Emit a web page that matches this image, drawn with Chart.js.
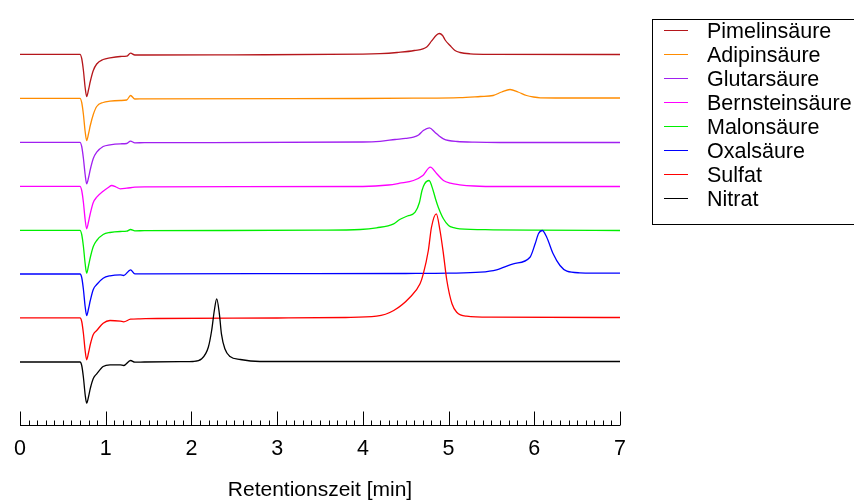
<!DOCTYPE html>
<html>
<head>
<meta charset="utf-8">
<script src="https://cdn.jsdelivr.net/npm/chart.js@4.4.1/dist/chart.umd.min.js"></script>
<style>
  html, body { margin: 0; padding: 0; background: #fff; overflow: hidden; }
  #wrap { width: 854px; height: 501px; }
</style>
</head>
<body>
<div id="wrap"><canvas id="chart" width="854" height="501"></canvas></div>
<script>
// Trace names and colours, top to bottom as in the legend
const seriesNames = ['Pimelinsäure', 'Adipinsäure', 'Glutarsäure', 'Bernsteinsäure',
                     'Malonsäure', 'Oxalsäure', 'Sulfat', 'Nitrat'];
const seriesColors = ['#b5161b', '#ff8c00', '#a020f0', '#ff00ff',
                      '#00ee00', '#0000ff', '#ff0000', '#000000'];
// vertical offset of each trace (stacked chromatograms)
const traceOffsets = [355.5, 311.5, 267.5, 223.5, 179.5, 136.5, 92.5, 48.5];
const xTickLabels = ['0', '1', '2', '3', '4', '5', '6', '7'];
const axisTitle = 'Retentionszeit [min]';

// Retention time [min] and signal
const pimelinT = [0, 0.70, 0.72, 0.74, 0.76, 0.778, 0.80, 0.82, 0.855, 0.895, 0.97, 1.05, 1.17, 1.245, 1.29, 1.34, 1.45,
                  2.5, 4.0, 4.2, 4.4, 4.6, 4.745, 4.80, 4.86, 4.892, 4.93, 4.96, 5.017, 5.075, 5.134, 5.25, 5.5, 7];
const pimelinV = [0.2, 0.2, -4, -16, -33, -42, -35, -27, -16, -9.5, -5, -3.3, -2, -1.7, 1.3, -0.5, -0.5,
                  -0.3, 0.3, 0.8, 2, 4, 7.5, 13.3, 19.5, 21, 19, 14.5, 9, 4, 2, 0.7, 0.2, 0];

const adipinT = [0, 0.70, 0.72, 0.74, 0.76, 0.778, 0.80, 0.82, 0.855, 0.895, 0.97, 1.05, 1.17, 1.245, 1.29, 1.34, 1.45,
                 3.97, 4.6, 5.13, 5.37, 5.52, 5.62, 5.717, 5.81, 5.91, 5.99, 6.07, 6.5, 7];
const adipinV = [0.2, 0.2, -4, -16, -33, -42, -35, -27, -16, -8, -4, -2.7, -2, -1.5, 3, -0.5, -0.3,
                 0, 0.3, 0.8, 2, 3, 6.5, 9, 6.5, 3, 1.5, 0.7, 0.5, 0.5];

const glutarT = [0, 0.70, 0.72, 0.74, 0.76, 0.778, 0.80, 0.82, 0.855, 0.895, 0.97, 1.05, 1.17, 1.245, 1.29, 1.34, 1.45,
                 4.0, 4.2, 4.375, 4.5, 4.59, 4.65, 4.705, 4.776, 4.84, 4.89, 4.94, 5.0, 5.1, 5.3, 5.6, 7];
const glutarV = [0.2, 0.2, -4, -16, -32, -41.3, -35, -27, -16, -9.7, -4, -2.3, -1.3, -1, 1.3, -0.3, -0.2,
                 0.5, 1.2, 3, 4.2, 5.3, 7.5, 12, 14.7, 10.3, 6.5, 3.7, 2, 1, 0.3, 0, 0];

const bernsteinT = [0, 0.70, 0.72, 0.74, 0.76, 0.778, 0.80, 0.82, 0.855, 0.895, 0.97, 1.03, 1.07, 1.12, 1.17, 1.245, 1.34, 1.45,
                    4.0, 4.3, 4.43, 4.59, 4.70, 4.787, 4.86, 4.94, 5.02, 5.13, 5.3, 5.6, 7];
const bernsteinV = [0.2, 0.2, -4, -16, -33, -42.3, -35, -27, -16, -10.7, -4.7, -1, 1, -0.5, -2.3, -1.7, -0.7, -0.3,
                    0, 1.5, 3.3, 6, 11, 19.3, 13, 6, 3.3, 1.7, 0.5, 0, 0];

const malonT = [0, 0.70, 0.72, 0.74, 0.76, 0.778, 0.80, 0.82, 0.855, 0.895, 0.97, 1.05, 1.17, 1.245, 1.29, 1.34, 1.45,
                3.5, 3.97, 4.16, 4.36, 4.43, 4.52, 4.61, 4.66, 4.69, 4.72, 4.772, 4.82, 4.85, 4.88, 4.94, 5.0, 5.06, 5.13, 5.52, 6.0, 7];
const malonV = [0.2, 0.2, -4, -16, -33, -42.7, -35, -27, -16, -10, -4, -2, -1, -0.7, 1, -0.3, -0.2,
                0.3, 1, 2.7, 6.7, 11, 14.5, 18.3, 28, 40, 46.7, 50, 40, 31, 23.3, 11.7, 5, 2.8, 1.7, 0.7, 0.3, 0];

const oxalT = [0, 0.70, 0.72, 0.74, 0.76, 0.778, 0.80, 0.82, 0.855, 0.895, 0.97, 1.05, 1.17, 1.21, 1.29, 1.34, 1.45,
               3.0, 4.5, 5.0, 5.37, 5.56, 5.755, 5.95, 6.01, 6.05, 6.094, 6.145, 6.22, 6.30, 6.38, 6.53, 7];
const oxalV = [-0.5, -0.5, -4, -16, -33, -42, -35, -27, -16, -11, -4.7, -2.3, -1.3, -2, 3.7, -0.3, -0.3,
               -0.2, 0, 0.3, 1.3, 3.7, 9.7, 16.3, 29.7, 40, 43, 36.3, 19.7, 8, 2.3, 0.7, 0.3];

const sulfatT = [0, 0.70, 0.72, 0.74, 0.76, 0.778, 0.80, 0.82, 0.855, 0.895, 0.97, 1.05, 1.17, 1.21, 1.29, 1.40, 1.6,
                 3.0, 3.8, 4.16, 4.36, 4.55, 4.667, 4.705, 4.764, 4.80, 4.857, 4.90, 4.94, 4.98, 5.04, 5.095, 5.21, 5.5, 7];
const sulfatV = [-0.3, -0.3, -4, -16, -33, -42.3, -35, -27, -17, -13, -5.7, -3, -3.7, -4.3, -1.7, -1.3, -1,
                 -0.5, 0, 1.3, 7, 20.3, 33.7, 43.7, 67, 90, 103.7, 87, 63.7, 37, 13.7, 5.3, 1.3, 0.3, 0];

const nitratT = [0, 0.70, 0.72, 0.74, 0.76, 0.778, 0.80, 0.82, 0.855, 0.895, 0.97, 1.05, 1.17, 1.21, 1.29, 1.34, 1.45,
                 1.9, 2.02, 2.12, 2.197, 2.236, 2.267, 2.295, 2.326, 2.35, 2.39, 2.45, 2.57, 2.8, 7];
const nitratV = [-0.5, -0.5, -4, -16, -33, -41.7, -35, -27, -17, -12.3, -5, -3.3, -3.3, -4, 1, -0.7, -0.5,
                 -0.2, 0, 2.7, 14.3, 31, 51, 62.7, 47.7, 27.7, 12.7, 5, 2, 0, 0];

const seriesT = [pimelinT, adipinT, glutarT, bernsteinT, malonT, oxalT, sulfatT, nitratT];
const seriesV = [pimelinV, adipinV, glutarV, bernsteinV, malonV, oxalV, sulfatV, nitratV];

const FONT = '"Liberation Sans", Arial, Helvetica, sans-serif';

// x axis with upward ticks and the boxed legend, drawn like the original
const decorations = {
    id: 'decorations',
    afterDraw(chart) {
        const ctx = chart.ctx;
        const x = chart.scales.x;
        const axisY = 425.5;
        ctx.save();
        ctx.strokeStyle = '#000';
        ctx.lineWidth = 1;

        // axis line
        ctx.beginPath();
        ctx.moveTo(x.getPixelForValue(0), axisY);
        ctx.lineTo(x.getPixelForValue(7), axisY);
        ctx.stroke();

        // ticks every 0.1 min, long ones on whole minutes
        for (let i = 0; i <= 70; i++) {
            const px = Math.round(x.getPixelForValue(i / 10)) + 0.5;
            const len = i % 10 === 0 ? 14 : 5;
            ctx.beginPath();
            ctx.moveTo(px, axisY);
            ctx.lineTo(px, axisY - len);
            ctx.stroke();
        }

        // tick labels
        ctx.fillStyle = '#000';
        ctx.font = '21.5px ' + FONT;
        ctx.textAlign = 'center';
        ctx.textBaseline = 'alphabetic';
        xTickLabels.forEach((lbl, i) => {
            ctx.fillText(lbl, x.getPixelForValue(i), 455);
        });

        // axis title
        ctx.font = '21px ' + FONT;
        ctx.fillText(axisTitle, (x.getPixelForValue(0) + x.getPixelForValue(7)) / 2, 496);

        // legend box
        ctx.strokeRect(652.5, 19.5, 400, 205);
        ctx.font = '21.5px ' + FONT;
        ctx.textAlign = 'left';
        seriesNames.forEach((name, i) => {
            const ly = Math.round(29.5 + i * 24.1) + 0.5;
            ctx.strokeStyle = seriesColors[i];
            ctx.beginPath();
            ctx.moveTo(664, ly);
            ctx.lineTo(688, ly);
            ctx.stroke();
            ctx.fillStyle = '#000';
            ctx.fillText(name, 707, ly + 7.5);
        });
        ctx.restore();
    }
};

function buildDatasets() {
    return seriesNames.map((name, i) => ({
        label: name,
        data: seriesT[i].map((t, k) => ({ x: t, y: seriesV[i][k] + traceOffsets[i] })),
        borderColor: seriesColors[i],
        borderWidth: 1.3,
        pointRadius: 0,
        showLine: true,
        fill: false,
        cubicInterpolationMode: 'monotone',
        // first trace drawn first, Nitrat ends up on top
        order: seriesNames.length - i
    }));
}

new Chart(document.getElementById('chart'), {
    type: 'scatter',
    data: { datasets: buildDatasets() },
    options: {
        responsive: false,
        animation: false,
        layout: { padding: { left: 20, right: 234, top: 20, bottom: 91 } },
        scales: {
            x: { type: 'linear', min: 0, max: 7, display: false },
            y: { type: 'linear', min: 0, max: 390, display: false }
        },
        plugins: {
            legend: { display: false },
            tooltip: { enabled: false }
        }
    },
    plugins: [decorations]
});
</script>
</body>
</html>
